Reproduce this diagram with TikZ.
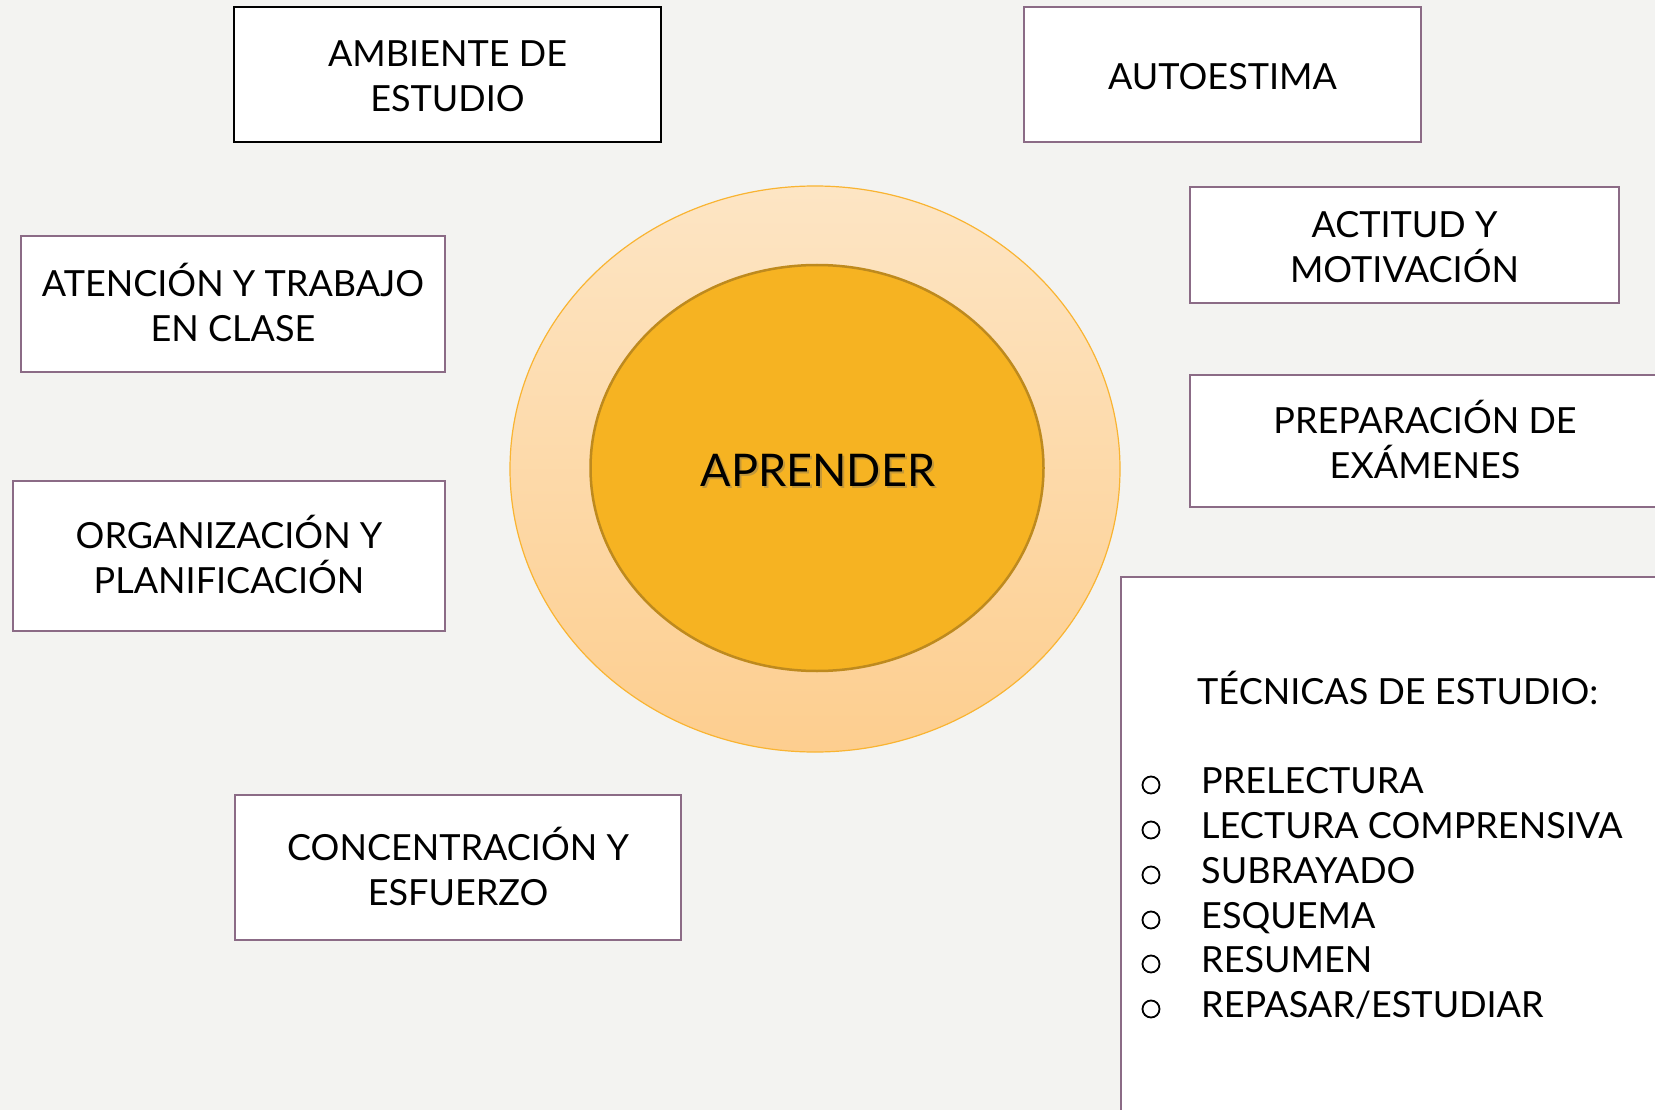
\documentclass[tikz,border=0pt]{standalone}
\usepackage{fontspec}
\setmainfont{Lato}
\usetikzlibrary{shapes.geometric}
\definecolor{bgcol}{RGB}{243,243,241}
\definecolor{boxpurple}{RGB}{139,107,134}
\definecolor{outertop}{RGB}{253,229,196}
\definecolor{outerbot}{RGB}{253,206,143}
\definecolor{outerline}{RGB}{249,180,50}
\definecolor{innerfill}{RGB}{246,179,34}
\definecolor{innerline}{RGB}{190,138,30}
\tikzset{
  box/.style={draw=boxpurple, line width=2.2pt, fill=white, rectangle, inner sep=0pt, align=center,
    text height=75pt, text depth=0pt, font=\fontsize{36}{45}\selectfont},
  oneline/.style={text height=30pt, text depth=0pt},
  blackbox/.style={box, draw=black},
  listtext/.style={anchor=base west, inner sep=0pt, font=\fontsize{36}{45}\selectfont},
  bulletmark/.style={circle, draw=black, line width=1.8pt, minimum size=17pt, inner sep=0pt}
}
\begin{document}
\begin{tikzpicture}[x=1pt,y=-1pt]
\useasboundingbox (0,0) rectangle (1655,1110);
\fill[bgcol] (0,0) rectangle (1655,1110);

% central ellipses
\node[ellipse, draw=outerline, line width=1.2pt, top color=outertop, bottom color=outerbot,
      minimum width=610pt, minimum height=566pt, inner sep=0pt] (outer) at (815,469) {};
\node[ellipse, draw=innerline, line width=2.5pt, fill=innerfill,
      minimum width=453pt, minimum height=406pt, inner sep=0pt] (inner) at (817,468) {};
\node[inner sep=0pt, text=black!60, text opacity=0.35, font=\fontsize{45}{54}\selectfont] (aprshadow) at (820,472) {APRENDER};
\node[inner sep=0pt, font=\fontsize{45}{54}\selectfont] (apr) at (818,470) {APRENDER};

% boxes
\node[blackbox, minimum width=427pt, minimum height=135pt] (amb) at (447.5,74.5) {AMBIENTE DE\\ESTUDIO};
\node[box, oneline, minimum width=397pt, minimum height=135pt] (auto) at (1222.5,74.5) {AUTOESTIMA};
\node[box, minimum width=429pt, minimum height=116pt] (act) at (1404.5,245) {ACTITUD Y\\MOTIVACIÓN};
\node[box, minimum width=424pt, minimum height=136pt] (aten) at (233,304) {ATENCIÓN Y TRABAJO\\EN CLASE};
\node[box, minimum width=470pt, minimum height=132pt] (prep) at (1425,441) {PREPARACIÓN DE\\EXÁMENES};
\node[box, minimum width=432pt, minimum height=150pt] (org) at (229,556) {ORGANIZACIÓN Y\\PLANIFICACIÓN};
\node[box, minimum width=446pt, minimum height=145pt] (conc) at (458,867.5) {CONCENTRACIÓN Y\\ESFUERZO};

% tecnicas panel
\node[box, oneline, minimum width=560pt, minimum height=555pt] (tec) at (1401,854.5) {};
\node[listtext] (tectitle) at (1197,704) {TÉCNICAS DE ESTUDIO:};
\node[listtext] (t1) at (1201,793) {PRELECTURA};
\node[listtext] (t2) at (1201,838) {LECTURA COMPRENSIVA};
\node[listtext] (t3) at (1201,883) {SUBRAYADO};
\node[listtext] (t4) at (1201,928) {ESQUEMA};
\node[listtext] (t5) at (1201,972) {RESUMEN};
\node[listtext] (t6) at (1201,1017) {REPASAR/ESTUDIAR};
\node[bulletmark] (b1) at (1151,785) {};
\node[bulletmark] (b2) at (1151,830) {};
\node[bulletmark] (b3) at (1151,875) {};
\node[bulletmark] (b4) at (1151,920) {};
\node[bulletmark] (b5) at (1151,964) {};
\node[bulletmark] (b6) at (1151,1009) {};
\end{tikzpicture}
\end{document}
